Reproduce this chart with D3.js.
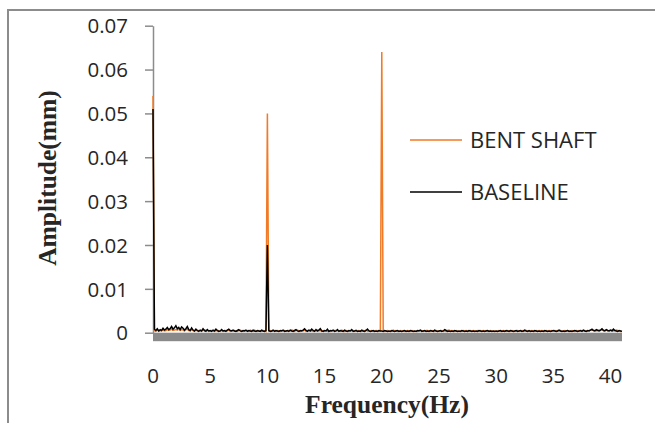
<!DOCTYPE html>
<html>
<head>
<meta charset="utf-8">
<script src="https://cdn.jsdelivr.net/npm/d3@7"></script>
<style>
  body { margin: 0; background: #fff; }
  svg { display: block; }
  .tick-label { font-family: 'Open Sans', sans-serif; font-size: 20.5px; fill: #262626; }
  .title { font-family: 'Liberation Serif', serif; font-weight: bold; font-size: 25.5px; fill: #262626; }
  .legend { font-family: 'Open Sans', sans-serif; font-size: 22px; fill: #262626; }
</style>
</head>
<body>
<svg width="655" height="423"></svg>
<script>
// spectrum sampled every 0.125 Hz (one row = 1 Hz), amplitudes in mm
const step = 0.125
const baseline = [
  0.0510, 0.0008, 0.0005, 0.0009, 0.0004, 0.0007, 0.0005, 0.0010,
  0.0006, 0.0008, 0.0012, 0.0007, 0.0009, 0.0014, 0.0008, 0.0011,
  0.0016, 0.0009, 0.0012, 0.0007, 0.0013, 0.0010, 0.0006, 0.0009,
  0.0014, 0.0007, 0.0005, 0.0011, 0.0006, 0.0004, 0.0008, 0.0005,
  0.0003, 0.0006, 0.0004, 0.0009, 0.0005, 0.0003, 0.0007, 0.0004,
  0.0005, 0.0003, 0.0006, 0.0004, 0.0008, 0.0005, 0.0003, 0.0004,
  0.0007, 0.0004, 0.0005, 0.0003, 0.0006, 0.0008, 0.0005, 0.0004,
  0.0006, 0.0004, 0.0003, 0.0005, 0.0007, 0.0004, 0.0003, 0.0005,
  0.0004, 0.0006, 0.0003, 0.0005, 0.0004, 0.0003, 0.0006, 0.0004,
  0.0003, 0.0005, 0.0004, 0.0003, 0.0006, 0.0004, 0.0003, 0.0005,
  0.0200, 0.0005, 0.0003, 0.0004, 0.0006, 0.0003, 0.0005, 0.0004,
  0.0003, 0.0005, 0.0004, 0.0006, 0.0003, 0.0004, 0.0005, 0.0003,
  0.0006, 0.0004, 0.0003, 0.0005, 0.0007, 0.0004, 0.0003, 0.0005,
  0.0004, 0.0006, 0.0009, 0.0005, 0.0003, 0.0006, 0.0004, 0.0008,
  0.0005, 0.0003, 0.0007, 0.0004, 0.0006, 0.0009, 0.0004, 0.0003,
  0.0005, 0.0004, 0.0008, 0.0003, 0.0005, 0.0004, 0.0006, 0.0003,
  0.0004, 0.0007, 0.0003, 0.0005, 0.0004, 0.0003, 0.0006, 0.0004,
  0.0003, 0.0005, 0.0004, 0.0007, 0.0003, 0.0004, 0.0005, 0.0003,
  0.0004, 0.0003, 0.0006, 0.0004, 0.0003, 0.0005, 0.0008, 0.0004,
  0.0003, 0.0004, 0.0005, 0.0003, 0.0004, 0.0003, 0.0005, 0.0004,
  0.0004, 0.0003, 0.0005, 0.0004, 0.0003, 0.0004, 0.0003, 0.0005,
  0.0004, 0.0003, 0.0004, 0.0005, 0.0003, 0.0004, 0.0003, 0.0004,
  0.0005, 0.0003, 0.0004, 0.0003, 0.0005, 0.0004, 0.0003, 0.0004,
  0.0003, 0.0005, 0.0004, 0.0006, 0.0003, 0.0004, 0.0005, 0.0003,
  0.0004, 0.0003, 0.0005, 0.0004, 0.0003, 0.0006, 0.0004, 0.0003,
  0.0004, 0.0005, 0.0003, 0.0004, 0.0007, 0.0005, 0.0003, 0.0004,
  0.0003, 0.0004, 0.0003, 0.0005, 0.0004, 0.0003, 0.0004, 0.0003,
  0.0005, 0.0004, 0.0003, 0.0004, 0.0003, 0.0005, 0.0004, 0.0003,
  0.0004, 0.0003, 0.0004, 0.0003, 0.0005, 0.0004, 0.0003, 0.0004,
  0.0003, 0.0004, 0.0005, 0.0003, 0.0004, 0.0003, 0.0004, 0.0003,
  0.0004, 0.0003, 0.0004, 0.0005, 0.0003, 0.0004, 0.0003, 0.0005,
  0.0004, 0.0003, 0.0005, 0.0004, 0.0003, 0.0004, 0.0005, 0.0003,
  0.0004, 0.0005, 0.0003, 0.0004, 0.0006, 0.0004, 0.0003, 0.0005,
  0.0003, 0.0004, 0.0003, 0.0005, 0.0004, 0.0003, 0.0004, 0.0003,
  0.0004, 0.0003, 0.0005, 0.0004, 0.0003, 0.0004, 0.0003, 0.0004,
  0.0005, 0.0004, 0.0003, 0.0004, 0.0006, 0.0004, 0.0003, 0.0004,
  0.0003, 0.0004, 0.0005, 0.0003, 0.0004, 0.0003, 0.0004, 0.0005,
  0.0004, 0.0003, 0.0004, 0.0005, 0.0003, 0.0006, 0.0004, 0.0003,
  0.0005, 0.0004, 0.0006, 0.0008, 0.0005, 0.0004, 0.0007, 0.0005,
  0.0004, 0.0006, 0.0009, 0.0005, 0.0004, 0.0007, 0.0005, 0.0004,
  0.0006, 0.0004, 0.0008, 0.0005, 0.0004, 0.0003, 0.0005, 0.0004,
  0.0003
]
const bentShaft = [
  0.0540, 0.0005, 0.0003, 0.0006, 0.0003, 0.0005, 0.0004, 0.0006,
  0.0004, 0.0005, 0.0007, 0.0005, 0.0006, 0.0008, 0.0005, 0.0006,
  0.0007, 0.0006, 0.0008, 0.0005, 0.0007, 0.0006, 0.0004, 0.0007,
  0.0008, 0.0005, 0.0004, 0.0007, 0.0005, 0.0003, 0.0006, 0.0004,
  0.0005, 0.0004, 0.0003, 0.0007, 0.0004, 0.0006, 0.0005, 0.0003,
  0.0004, 0.0005, 0.0004, 0.0003, 0.0005, 0.0004, 0.0005, 0.0003,
  0.0005, 0.0003, 0.0004, 0.0005, 0.0004, 0.0006, 0.0003, 0.0005,
  0.0004, 0.0005, 0.0004, 0.0003, 0.0005, 0.0006, 0.0004, 0.0003,
  0.0005, 0.0004, 0.0005, 0.0003, 0.0006, 0.0004, 0.0003, 0.0006,
  0.0004, 0.0003, 0.0005, 0.0004, 0.0003, 0.0005, 0.0004, 0.0003,
  0.0500, 0.0004, 0.0005, 0.0003, 0.0004, 0.0005, 0.0003, 0.0005,
  0.0004, 0.0003, 0.0005, 0.0004, 0.0005, 0.0003, 0.0004, 0.0005,
  0.0004, 0.0006, 0.0005, 0.0003, 0.0005, 0.0006, 0.0004, 0.0003,
  0.0005, 0.0004, 0.0006, 0.0003, 0.0005, 0.0004, 0.0006, 0.0004,
  0.0003, 0.0005, 0.0004, 0.0006, 0.0004, 0.0005, 0.0003, 0.0005,
  0.0004, 0.0005, 0.0003, 0.0004, 0.0003, 0.0005, 0.0004, 0.0005,
  0.0005, 0.0004, 0.0005, 0.0003, 0.0006, 0.0004, 0.0003, 0.0005,
  0.0004, 0.0003, 0.0005, 0.0004, 0.0005, 0.0003, 0.0006, 0.0004,
  0.0005, 0.0004, 0.0003, 0.0005, 0.0004, 0.0006, 0.0003, 0.0005,
  0.0004, 0.0005, 0.0003, 0.0004, 0.0005, 0.0004, 0.0003, 0.0004,
  0.0640, 0.0004, 0.0003, 0.0004, 0.0005, 0.0003, 0.0004, 0.0003,
  0.0006, 0.0004, 0.0005, 0.0003, 0.0004, 0.0005, 0.0003, 0.0005,
  0.0003, 0.0004, 0.0005, 0.0004, 0.0003, 0.0005, 0.0004, 0.0003,
  0.0004, 0.0003, 0.0005, 0.0004, 0.0005, 0.0003, 0.0004, 0.0005,
  0.0005, 0.0004, 0.0003, 0.0005, 0.0004, 0.0003, 0.0005, 0.0004,
  0.0003, 0.0004, 0.0005, 0.0003, 0.0004, 0.0003, 0.0005, 0.0006,
  0.0004, 0.0005, 0.0004, 0.0003, 0.0005, 0.0004, 0.0003, 0.0004,
  0.0003, 0.0005, 0.0004, 0.0005, 0.0004, 0.0003, 0.0005, 0.0004,
  0.0005, 0.0004, 0.0003, 0.0005, 0.0003, 0.0005, 0.0004, 0.0005,
  0.0004, 0.0005, 0.0003, 0.0004, 0.0005, 0.0004, 0.0003, 0.0004,
  0.0003, 0.0004, 0.0005, 0.0003, 0.0004, 0.0005, 0.0004, 0.0003,
  0.0005, 0.0004, 0.0003, 0.0005, 0.0004, 0.0003, 0.0004, 0.0005,
  0.0003, 0.0004, 0.0005, 0.0003, 0.0004, 0.0005, 0.0004, 0.0003,
  0.0004, 0.0005, 0.0004, 0.0003, 0.0005, 0.0004, 0.0005, 0.0004,
  0.0005, 0.0004, 0.0003, 0.0005, 0.0004, 0.0005, 0.0004, 0.0005,
  0.0004, 0.0005, 0.0004, 0.0005, 0.0004, 0.0005, 0.0004, 0.0003,
  0.0005, 0.0004, 0.0005, 0.0004, 0.0003, 0.0005, 0.0004, 0.0003,
  0.0005, 0.0004, 0.0005, 0.0004, 0.0005, 0.0004, 0.0005, 0.0004,
  0.0004, 0.0005, 0.0006, 0.0005, 0.0006, 0.0005, 0.0004, 0.0006,
  0.0006, 0.0005, 0.0007, 0.0006, 0.0005, 0.0006, 0.0004, 0.0005,
  0.0005, 0.0006, 0.0004, 0.0005, 0.0006, 0.0005, 0.0004, 0.0003,
  0.0003
]
const xTicks = [0, 5, 10, 15, 20, 25, 30, 35, 40]
const yTicks = [0, 0.01, 0.02, 0.03, 0.04, 0.05, 0.06, 0.07]
const series = [
  { name: 'BENT SHAFT', values: bentShaft, color: '#f07a26' },
  { name: 'BASELINE', values: baseline, color: '#000000' }
]

const svg = d3.select('svg')
const axisGray = '#8c8c8c'

const x = d3.scaleLinear().domain([0, 41]).range([153, 622])
const y = d3.scaleLinear().domain([0, 0.07]).range([332.7, 25.7])

// chart frame (only left and top edges fall inside the picture)
svg.append('rect')
  .attr('x', 8).attr('y', 10)
  .attr('width', 700).attr('height', 500)
  .attr('fill', 'none')
  .attr('stroke', axisGray)
  .attr('stroke-width', 2)

// floor under the plot
svg.append('rect')
  .attr('x', x(0)).attr('y', y(0))
  .attr('width', x(41) - x(0)).attr('height', 8.5)
  .attr('fill', '#8a8a8a')

// y axis
const yAxis = svg.append('g')
  .attr('transform', `translate(${x(0)},0)`)
  .call(d3.axisLeft(y).tickValues(yTicks).tickSize(8).tickSizeOuter(0)
    .tickFormat(d => d === 0 ? '0' : d.toFixed(2)))
yAxis.select('.domain').attr('stroke', axisGray).attr('stroke-width', 1.5)
yAxis.selectAll('.tick line').attr('stroke', axisGray).attr('stroke-width', 1.5)
yAxis.selectAll('.tick text')
  .attr('class', 'tick-label')
  .attr('x', -25)
  .attr('dy', '0.35em')
  .attr('font-size', null).attr('font-family', null)

// x tick labels
svg.append('g')
  .selectAll('text')
  .data(xTicks)
  .join('text')
  .attr('class', 'tick-label')
  .attr('x', d => x(d))
  .attr('y', 383)
  .attr('text-anchor', 'middle')
  .text(d => d)

// series lines
const line = d3.line()
  .x((d, i) => x(i * step))
  .y(d => y(d))

svg.append('g')
  .selectAll('path')
  .data(series)
  .join('path')
  .attr('d', d => line(d.values))
  .attr('fill', 'none')
  .attr('stroke', d => d.color)
  .attr('stroke-width', 1.5)
  .attr('stroke-linejoin', 'miter')

// axis titles
svg.append('text')
  .attr('class', 'title')
  .attr('x', 387)
  .attr('y', 413)
  .attr('text-anchor', 'middle')
  .text('Frequency(Hz)')

svg.append('text')
  .attr('class', 'title')
  .attr('transform', 'translate(56,178) rotate(-90)')
  .attr('text-anchor', 'middle')
  .text('Amplitude(mm)')

// legend
const legend = svg.append('g')
  .selectAll('g')
  .data(series)
  .join('g')
  .attr('transform', (d, i) => `translate(410,${140 + i * 52})`)

legend.append('line')
  .attr('x1', 0).attr('x2', 52)
  .attr('stroke', d => d.color)
  .attr('stroke-width', 1.5)

legend.append('text')
  .attr('class', 'legend')
  .attr('x', 60)
  .attr('dy', '0.35em')
  .text(d => d.name)
</script>
</body>
</html>
